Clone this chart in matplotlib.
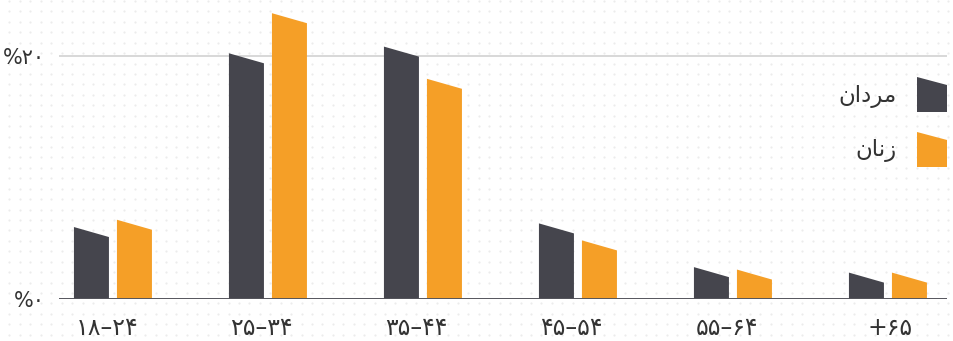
import numpy as np
import matplotlib.pyplot as plt
from matplotlib.patches import Polygon
from matplotlib.transforms import ScaledTranslation

# Data (percent, read at the lower/right corner of each slanted bar top)
categories = ["۱۸–۲۴", "۲۵–۳۴", "۳۵–۴۴", "۴۵–۵۴", "۵۵–۶۴", "+۶۵"]
men = [5.1, 19.4, 19.95, 5.4, 1.8, 1.35]
women = [5.7, 22.7, 17.3, 4.0, 1.6, 1.35]
# legend labels, written as shaped glyphs in visual order (matplotlib has no RTL shaping)
label_men = "\uFEE5\uFE8D\uFEA9\uFEAE\uFEE3"      # مردان
label_women = "\uFEE5\uFE8E\uFEE7\uFEAF"          # زنان
ytick_vals = [0, 20]
ytick_labels = ["%۰", "%۲۰"]

DARK = "#45454d"
ORANGE = "#f59f27"
W, H, DPI = 954, 341, 100

plt.rcParams["font.family"] = ["DejaVu Sans"]

fig = plt.figure(figsize=(W / DPI, H / DPI), dpi=DPI)

# dotted background over the whole figure
bg = fig.add_axes([0, 0, 1, 1], zorder=0)
bg.set_xlim(0, W)
bg.set_ylim(H, 0)
bg.axis("off")
gx, gy = np.meshgrid(np.arange(9.5, W, 10.43), np.arange(1, H, 10.43))
bg.scatter(gx.ravel(), gy.ravel(), s=2.5, color="#ececec", linewidths=0)

# plot area: 20% ~ 243 px
px_per_pct = 243 / 20
left, right, base_y, top_y = 59, 947, 299, 8
ax = fig.add_axes([left / W, (H - base_y) / H, (right - left) / W, (base_y - top_y) / H], zorder=1)
ax.patch.set_alpha(0)
ax.set_ylim(0, (base_y - top_y) / px_per_pct)
ax.set_xlim(-0.348, 5.381)

bar_w = 35 / 155
off = 21.5 / 155
slant = 10 / px_per_pct

def slanted_bar(x, v, color):
    x0, x1 = x - bar_w / 2, x + bar_w / 2
    ax.add_patch(Polygon([(x0, 0), (x0, v + slant), (x1, v), (x1, 0)],
                         closed=True, facecolor=color, edgecolor="none", zorder=3))

x = np.arange(len(categories))
for i in range(len(categories)):
    slanted_bar(x[i] - off, men[i], DARK)
    slanted_bar(x[i] + off, women[i], ORANGE)

ax.axhline(20, color="#d6d6d6", lw=1.3, zorder=1)
ax.axhline(0, color="#55555c", lw=1.4, zorder=4)

for s in ax.spines.values():
    s.set_visible(False)
ax.tick_params(length=0)
ax.set_yticks(ytick_vals)
ax.set_yticklabels(ytick_labels, fontsize=15, color="#333333")
ax.tick_params(axis="y", pad=10)
ax.set_xticks(x)
ax.set_xticklabels(categories, fontsize=17, color="#333333", ha="right")
ax.tick_params(axis="x", pad=12)
shift = ScaledTranslation(25 / DPI, 0, fig.dpi_scale_trans)
for lab in ax.get_xticklabels():
    lab.set_transform(lab.get_transform() + shift)

# legend (right side)
for ytop, color, text in [(77, DARK, label_men), (132, ORANGE, label_women)]:
    bg.add_patch(Polygon([(917, ytop + 35), (917, ytop), (947, ytop + 8), (947, ytop + 35)],
                         closed=True, facecolor=color, edgecolor="none", zorder=5))
    bg.text(897, ytop + 19, text, fontsize=16.5, color="#333333", ha="right", va="center", zorder=5)

fig.savefig("out.png", dpi=DPI)
